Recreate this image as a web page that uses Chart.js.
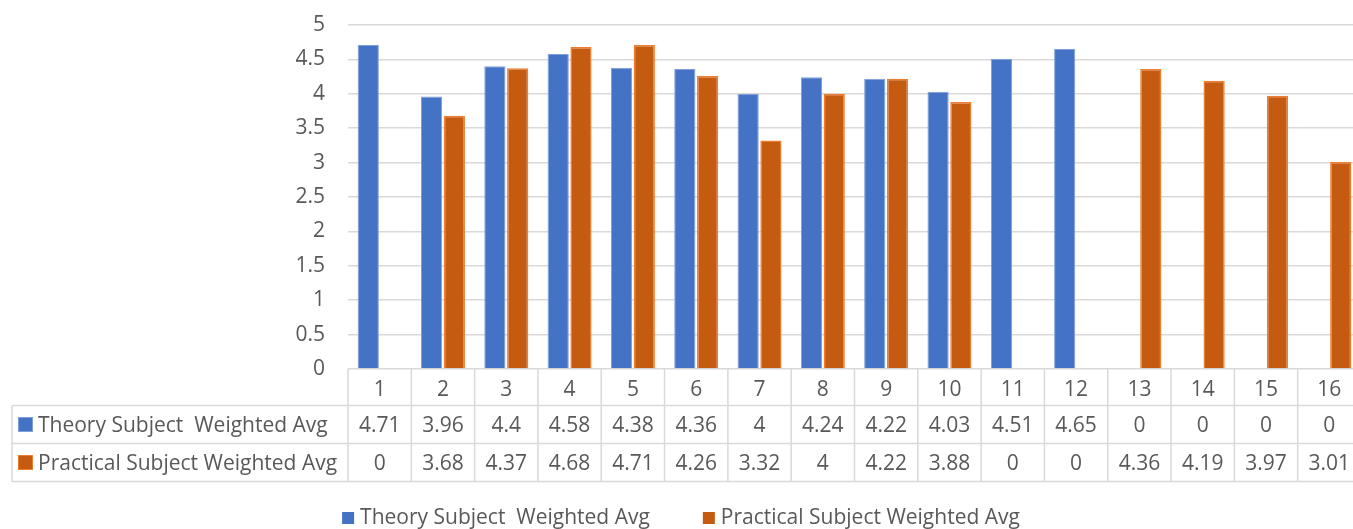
<!DOCTYPE html>
<html>
<head>
<meta charset="utf-8">
<script src="https://cdn.jsdelivr.net/npm/chart.js@4.4.0/dist/chart.umd.min.js"></script>
<style>
  html, body { margin: 0; padding: 0; background: #fff; overflow: hidden; }
  canvas { display: block; }
</style>
</head>
<body>
<canvas id="avgChart" width="1362" height="529"></canvas>
<script>
const categories = ['1', '2', '3', '4', '5', '6', '7', '8', '9', '10', '11', '12', '13', '14', '15', '16'];
const seriesNames = ['Theory Subject  Weighted Avg', 'Practical Subject Weighted Avg'];
const theoryAvg = [4.71, 3.96, 4.4, 4.58, 4.38, 4.36, 4, 4.24, 4.22, 4.03, 4.51, 4.65, 0, 0, 0, 0];
const practicalAvg = [0, 3.68, 4.37, 4.68, 4.71, 4.26, 3.32, 4, 4.22, 3.88, 0, 0, 4.36, 4.19, 3.97, 3.01];

const FONT = '"Open Sans"';
const FSIZE = 21;
const TEXT = '#595959';
const LINE = '#D9D9D9';
const fills = ['#4472C4', '#C55A11'];
const borders = ['#7F9FDB', '#ED7D31'];

// data table under the plot plus the bottom legend
const tablePlugin = {
    id: 'dataTable',
    afterDraw(chart) {
        const { ctx, chartArea, scales: { x } } = chart;
        const colW = x.width / categories.length;
        const tableLeft = 12;
        const right = chartArea.right;
        const y0 = chartArea.bottom;
        const rows = [y0, y0 + 36.5, y0 + 74.5, y0 + 112.5];
        const rowData = [theoryAvg, practicalAvg];

        ctx.save();
        ctx.strokeStyle = LINE;
        ctx.lineWidth = 1.5;
        ctx.beginPath();
        // horizontal lines of the value rows
        for (let r = 1; r < rows.length; r++) {
            ctx.moveTo(tableLeft, rows[r]);
            ctx.lineTo(right, rows[r]);
        }
        ctx.moveTo(tableLeft, rows[1]);
        ctx.lineTo(tableLeft, rows[3]);
        for (let i = 0; i <= categories.length; i++) {
            const cx = chartArea.left + i * colW;
            ctx.moveTo(cx, rows[0]);
            ctx.lineTo(cx, rows[3]);
        }
        ctx.stroke();

        ctx.font = `${FSIZE}px ${FONT}`;
        ctx.fillStyle = TEXT;
        ctx.textBaseline = 'middle';
        rowData.forEach((values, r) => {
            const cy = (rows[r + 1] + rows[r + 2]) / 2;
            // row key square + name
            ctx.fillStyle = fills[r];
            ctx.fillRect(18, cy - 7.5, 15, 15);
            ctx.strokeStyle = borders[r];
            ctx.lineWidth = 1;
            ctx.strokeRect(18.5, cy - 7, 14, 14);
            ctx.fillStyle = TEXT;
            ctx.textAlign = 'left';
            ctx.fillText(seriesNames[r], 38, cy + 1.5);
            ctx.textAlign = 'center';
            values.forEach((v, i) => {
                ctx.fillText(String(v), x.getPixelForValue(i), cy + 1.5);
            });
        });

        // legend
        const gap = 53;
        const box = 12;
        const widths = seriesNames.map(n => box + 6 + ctx.measureText(n).width);
        const total = widths[0] + gap + widths[1];
        let lx = chart.width / 2 - total / 2;
        const ly = 518;
        seriesNames.forEach((name, i) => {
            ctx.fillStyle = fills[i];
            ctx.fillRect(lx, ly - box / 2, box, box);
            ctx.fillStyle = TEXT;
            ctx.textAlign = 'left';
            ctx.fillText(name, lx + box + 6, ly);
            lx += widths[i] + gap;
        });
        ctx.restore();
    }
};

new Chart(document.getElementById('avgChart'), {
    type: 'bar',
    data: {
        labels: categories,
        datasets: [
            {
                label: seriesNames[0],
                data: theoryAvg,
                backgroundColor: fills[0],
                borderColor: borders[0],
                borderWidth: { top: 1, left: 1, right: 1, bottom: 0 },
                categoryPercentage: 0.72,
                barPercentage: 0.93
            },
            {
                label: seriesNames[1],
                data: practicalAvg,
                backgroundColor: fills[1],
                borderColor: borders[1],
                borderWidth: { top: 1.5, left: 1.5, right: 1.5, bottom: 0 },
                categoryPercentage: 0.72,
                barPercentage: 0.93
            }
        ]
    },
    options: {
        responsive: false,
        animation: false,
        devicePixelRatio: 1,
        layout: { padding: { left: 0, right: 1, top: 25, bottom: 0 } },
        plugins: {
            legend: { display: false },
            tooltip: { enabled: false }
        },
        scales: {
            x: {
                grid: { display: false },
                border: { display: false },
                ticks: {
                    font: { family: FONT, size: FSIZE },
                    color: TEXT,
                    padding: 0,
                    maxRotation: 0
                },
                afterFit(scale) { scale.height = 160; }
            },
            y: {
                min: 0,
                max: 5,
                grid: {
                    color: LINE,
                    lineWidth: 1.5,
                    drawTicks: true,
                    tickLength: 23,
                    tickColor: 'rgba(0,0,0,0)'
                },
                border: { display: false },
                ticks: {
                    stepSize: 0.5,
                    font: { family: FONT, size: FSIZE },
                    color: TEXT,
                    padding: 0,
                    callback: value => String(value)
                },
                afterFit(scale) { scale.width = 348; }
            }
        }
    },
    plugins: [tablePlugin]
});
</script>
</body>
</html>
